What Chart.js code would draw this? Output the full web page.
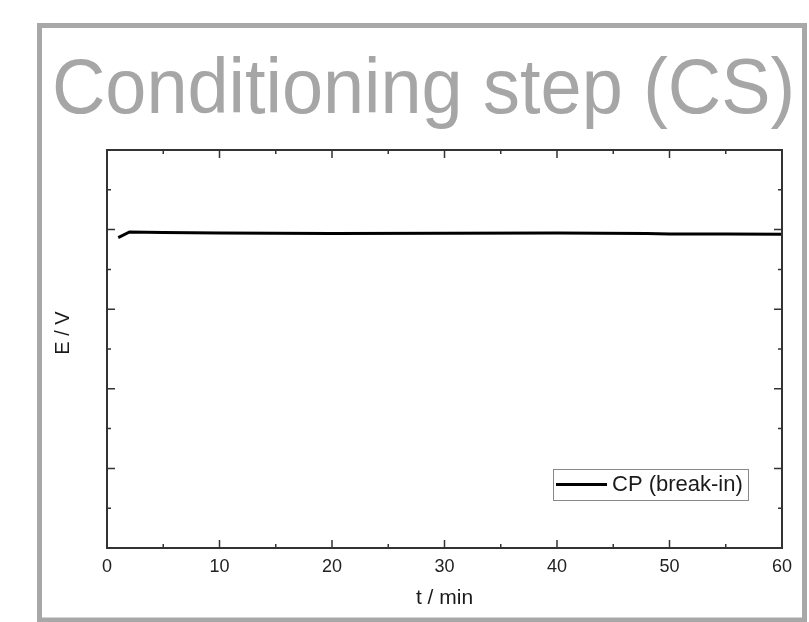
<!DOCTYPE html>
<html>
<head>
<meta charset="utf-8">
<script src="https://cdn.jsdelivr.net/npm/chart.js@4/dist/chart.umd.min.js"></script>
<style>
  html, body { margin: 0; padding: 0; background: #fff; }
  #wrap { width: 809px; height: 622px; position: relative; }
</style>
</head>
<body>
<div id="wrap"><canvas id="cs-chart"></canvas></div>
<script>
// values (t in min, E in arbitrary units, axis has no labels)
var timeMin = [1, 2, 5, 10, 20, 30, 40, 48, 50, 55, 60]
var potential = [3.90, 3.97, 3.965, 3.957, 3.952, 3.955, 3.957, 3.952, 3.946, 3.944, 3.942]
var xTicks = [0, 10, 20, 30, 40, 50, 60]
var seriesLabel = 'CP (break-in)'
var chartTitle = 'Conditioning step (CS)'

var points = timeMin.map(function(t, i){ return {x: t, y: potential[i]} })

// slide frame, big grey title, inward ticks, box around plot and legend
var decorations = {
  id: 'decorations',
  beforeDraw: function(chart){
    var ctx = chart.ctx
    ctx.save()
    ctx.fillStyle = '#ffffff'
    ctx.fillRect(0, 0, chart.width, chart.height)
    ctx.strokeStyle = '#a8a8a8'
    ctx.lineWidth = 5
    ctx.strokeRect(39.5, 25.5, 765, 594.5)
    ctx.fillStyle = '#a6a6a6'
    ctx.font = '78px "Liberation Sans", Arial, sans-serif'
    ctx.textBaseline = 'alphabetic'
    ctx.fillText(chartTitle, 52, 113, 743)
    ctx.restore()
  },
  afterDraw: function(chart){
    var ctx = chart.ctx
    var a = chart.chartArea
    var xs = chart.scales.x, ys = chart.scales.y
    ctx.save()
    ctx.strokeStyle = '#333'
    ctx.lineWidth = 1.5
    var v, p, len
    for (v = 0; v <= 60; v += 5) {
      p = xs.getPixelForValue(v)
      len = v % 10 === 0 ? 8 : 4
      ctx.beginPath()
      ctx.moveTo(p, a.bottom); ctx.lineTo(p, a.bottom - len)
      ctx.moveTo(p, a.top); ctx.lineTo(p, a.top + len)
      ctx.stroke()
    }
    for (v = 0; v <= 5; v += 0.5) {
      p = ys.getPixelForValue(v)
      len = v % 1 === 0 ? 8 : 4
      ctx.beginPath()
      ctx.moveTo(a.left, p); ctx.lineTo(a.left + len, p)
      ctx.moveTo(a.right, p); ctx.lineTo(a.right - len, p)
      ctx.stroke()
    }
    ctx.lineWidth = 2
    ctx.strokeRect(a.left, a.top, a.right - a.left, a.bottom - a.top)

    // y title
    ctx.fillStyle = '#1a1a1a'
    ctx.font = '20px "Liberation Sans", Arial, sans-serif'
    ctx.textAlign = 'center'
    ctx.textBaseline = 'middle'
    ctx.translate(63, 333)
    ctx.rotate(-Math.PI / 2)
    ctx.fillText('E / V', 0, 0)
    ctx.setTransform(1, 0, 0, 1, 0, 0)

    // legend
    ctx.strokeStyle = '#888'
    ctx.lineWidth = 1
    ctx.strokeRect(553.5, 469.5, 195, 31)
    ctx.strokeStyle = '#000'
    ctx.lineWidth = 3
    ctx.beginPath()
    ctx.moveTo(556, 484.5); ctx.lineTo(607, 484.5)
    ctx.stroke()
    ctx.fillStyle = '#1a1a1a'
    ctx.font = '22px "Liberation Sans", Arial, sans-serif'
    ctx.textAlign = 'left'
    ctx.textBaseline = 'middle'
    ctx.fillText(chart.data.datasets[0].label, 612, 485)
    ctx.restore()
  }
}

new Chart(document.getElementById('cs-chart'), {
  type: 'line',
  data: {
    datasets: [{
      label: seriesLabel,
      data: points,
      borderColor: '#000',
      borderWidth: 3,
      pointRadius: 0,
      tension: 0,
      fill: false
    }]
  },
  options: {
    responsive: true,
    maintainAspectRatio: false,
    animation: false,
    layout: { padding: { top: 150, right: 27, left: 0, bottom: 0 } },
    plugins: { legend: { display: false }, tooltip: { enabled: false } },
    scales: {
      x: {
        type: 'linear',
        min: 0,
        max: 60,
        afterBuildTicks: function(scale){
          scale.ticks = xTicks.map(function(v){ return {value: v} })
        },
        afterFit: function(scale){ scale.height = 74 },
        grid: { display: false, drawTicks: false },
        border: { display: false },
        ticks: {
          color: '#222',
          padding: 8,
          maxRotation: 0,
          font: { family: '"Liberation Sans", Arial, sans-serif', size: 18 }
        },
        title: {
          display: true,
          text: 't / min',
          color: '#1a1a1a',
          padding: { top: 0, bottom: 11 },
          font: { family: '"Liberation Sans", Arial, sans-serif', size: 21 }
        }
      },
      y: {
        type: 'linear',
        min: 0,
        max: 5,
        afterFit: function(scale){ scale.width = 107 },
        grid: { display: false, drawTicks: false },
        border: { display: false },
        ticks: { display: false }
      }
    }
  },
  plugins: [decorations]
})
</script>
</body>
</html>
